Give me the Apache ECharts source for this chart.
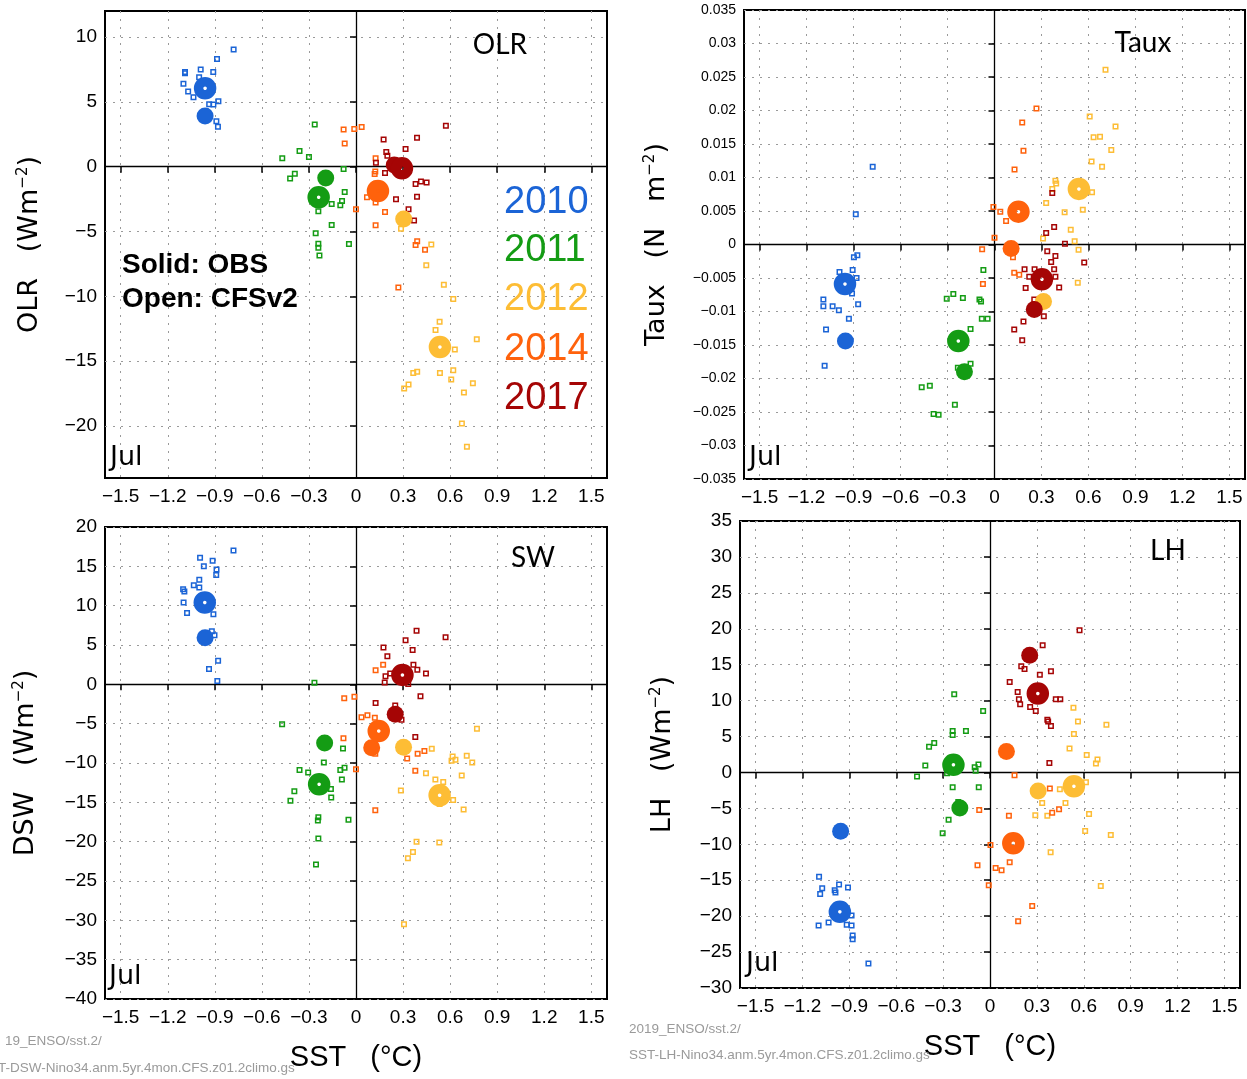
<!DOCTYPE html>
<html>
<head>
<meta charset="utf-8">
<script src="https://cdn.jsdelivr.net/npm/echarts@6/dist/echarts.min.js"></script>
<style>
html,body{margin:0;padding:0;background:#fff;}
#chart{width:1247px;height:1079px;}
</style>
</head>
<body>
<div id="chart"></div>
<script>
// ---------- categories / ticks ----------
const years = ['2010', '2011', '2012', '2014', '2017'];
const sstTicks = [-1.5, -1.2, -0.9, -0.6, -0.3, 0, 0.3, 0.6, 0.9, 1.2, 1.5];
const olrTicks = [-20, -15, -10, -5, 0, 5, 10];
const tauxTicks = [-0.035, -0.03, -0.025, -0.02, -0.015, -0.01, -0.005, 0, 0.005, 0.01, 0.015, 0.02, 0.025, 0.03, 0.035];
const dswTicks = [-40, -35, -30, -25, -20, -15, -10, -5, 0, 5, 10, 15, 20];
const lhTicks = [-30, -25, -20, -15, -10, -5, 0, 5, 10, 15, 20, 25, 30, 35];

// ---------- OLR ----------
const olr2010Obs = [-0.962, 3.9];
const olr2010Cfs = [-0.962, 6.05];
const olr2010Mem = [[-0.78,9.03],[-0.886,8.3],[-0.99,7.5],[-0.91,7.3],[-1.09,7.3],[-1.09,7.2],[-1.10,6.4],[-1.07,5.8],[-1.036,5.36],[-1.0,6.9],[-0.877,5.05],[-0.936,4.82],[-0.909,4.8],[-0.89,3.5],[-0.88,3.08]];
const olr2011Obs = [-0.193, -0.87];
const olr2011Cfs = [-0.238, -2.36];
const olr2011Mem = [[-0.263,3.26],[-0.36,1.2],[-0.30,0.74],[-0.47,0.64],[-0.39,-0.54],[-0.42,-0.92],[-0.079,-0.18],[-0.072,-1.95],[-0.089,-2.64],[-0.155,-2.87],[-0.10,-2.97],[-0.24,-3.44],[-0.155,-4.49],[-0.257,-5.13],[-0.24,-5.95],[-0.24,-6.26],[-0.233,-6.85],[-0.045,-5.97]];
const olr2012Obs = [0.304, -4.03];
const olr2012Cfs = [0.535, -13.9];
const olr2012Mem = [[0.287,-4.79],[0.48,-6.0],[0.448,-7.6],[0.56,-9.1],[0.62,-10.2],[0.533,-11.95],[0.507,-12.6],[0.77,-13.3],[0.63,-14.1],[0.535,-15.9],[0.62,-15.7],[0.607,-16.4],[0.365,-15.9],[0.39,-15.8],[0.335,-16.8],[0.307,-17.1],[0.688,-17.4],[0.745,-16.7],[0.675,-19.8],[0.707,-21.6]];
const olr2014Obs = [0.13, -1.7];
const olr2014Cfs = [0.14, -1.87];
const olr2014Mem = [[-0.079,2.87],[-0.011,2.9],[0.036,3.05],[-0.072,1.79],[0.125,0.64],[0.123,-0.38],[0.119,-0.56],[0.07,-2.36],[0.125,-2.77],[0.0,-3.28],[0.185,-3.49],[0.125,-4.51],[0.38,-6.03],[0.39,-5.74],[0.44,-6.41],[0.27,-9.31]];
const olr2017Obs = [0.244, 0.13];
const olr2017Cfs = [0.293, -0.13];
const olr2017Mem = [[0.573,3.15],[0.176,2.1],[0.389,2.23],[0.316,1.36],[0.193,1.13],[0.2,0.85],[0.127,0.31],[0.185,-0.49],[0.38,-1.33],[0.414,-1.15],[0.45,-1.23],[0.389,-2.31],[0.255,-2.51],[0.335,-3.28],[0.37,-4.15]];

// ---------- Taux ----------
const taux2010Obs = [-0.952, -0.0144];
const taux2010Cfs = [-0.955, -0.0059];
const taux2010Mem = [[-0.778,0.0116],[-0.886,0.0045],[-0.898,-0.0019],[-0.876,-0.0016],[-0.99,-0.0041],[-0.906,-0.0038],[-0.881,-0.005],[-0.91,-0.0073],[-0.871,-0.0089],[-1.093,-0.0082],[-1.093,-0.0092],[-1.034,-0.0092],[-0.994,-0.0098],[-0.93,-0.0111],[-1.076,-0.0127],[-1.085,-0.0181]];
const taux2011Obs = [-0.192, -0.019];
const taux2011Cfs = [-0.231, -0.0144];
const taux2011Mem = [[-0.071,-0.0038],[-0.096,-0.0082],[-0.086,-0.0085],[-0.305,-0.0081],[-0.263,-0.0074],[-0.202,-0.008],[-0.081,-0.0111],[-0.044,-0.0111],[-0.153,-0.0126],[-0.153,-0.0178],[-0.234,-0.0184],[-0.465,-0.0213],[-0.413,-0.0211],[-0.253,-0.0239],[-0.389,-0.0253],[-0.357,-0.0254]];
const taux2012Obs = [0.313, -0.0085];
const taux2012Cfs = [0.539, 0.0083];
const taux2012Mem = [[0.709,0.0261],[0.608,0.0191],[0.773,0.0176],[0.633,0.016],[0.674,0.0161],[0.746,0.0141],[0.62,0.0124],[0.687,0.0116],[0.389,0.0095],[0.394,0.0091],[0.369,0.0083],[0.623,0.0078],[0.33,0.0062],[0.448,0.0048],[0.564,0.0052],[0.487,0.0022],[0.512,0.0005],[0.31,0.0009],[0.537,-0.0008],[0.532,-0.0057]];
const taux2014Obs = [0.106, -0.0006];
const taux2014Cfs = [0.153, 0.0049];
const taux2014Mem = [[0.268,0.0203],[0.177,0.0182],[0.185,0.014],[0.128,0.0112],[-0.007,0.0056],[0.037,0.0049],[0.074,0.0035],[0.0,0.001],[-0.079,-0.0007],[0.118,-0.0019],[0.126,-0.0042],[0.158,-0.0045],[-0.074,-0.0059]];
const taux2017Obs = [0.254, -0.0097];
const taux2017Cfs = [0.303, -0.0052];
const taux2017Mem = [[0.369,0.0077],[0.381,0.0026],[0.33,0.0017],[0.45,0.0001],[0.337,-0.001],[0.389,-0.0017],[0.362,-0.0026],[0.381,-0.0037],[0.256,-0.0037],[0.192,-0.0037],[0.389,-0.0048],[0.222,-0.0048],[0.199,-0.0065],[0.413,-0.0064],[0.254,-0.0082],[0.315,-0.0107],[0.185,-0.0115],[0.126,-0.0127],[0.177,-0.0143],[0.573,-0.0027]];

// ---------- DSW ----------
const dsw2010Obs = [-0.962, 5.93];
const dsw2010Cfs = [-0.964, 10.4];
const dsw2010Mem = [[-0.781,17.0],[-0.994,16.1],[-0.914,15.7],[-0.97,15.0],[-0.889,14.6],[-0.891,13.9],[-0.999,13.3],[-1.034,12.6],[-0.999,12.3],[-1.102,12.1],[-1.094,11.8],[-1.099,10.4],[-1.077,9.07],[-0.909,8.9],[-0.919,6.76],[-0.902,6.25],[-0.879,3.0],[-0.937,1.94],[-0.884,0.42]];
const dsw2011Obs = [-0.2, -7.45];
const dsw2011Cfs = [-0.235, -12.7];
const dsw2011Mem = [[-0.265,0.19],[-0.471,-5.09],[-0.083,-8.15],[-0.205,-9.95],[-0.073,-10.6],[-0.1,-10.9],[-0.36,-10.9],[-0.305,-11.2],[-0.09,-12.1],[-0.16,-13.3],[-0.393,-13.6],[-0.158,-14.4],[-0.418,-14.8],[-0.048,-17.2],[-0.24,-16.9],[-0.243,-17.3],[-0.24,-19.6],[-0.255,-22.9]];
const dsw2012Obs = [0.303, -8.0];
const dsw2012Cfs = [0.533, -14.1];
const dsw2012Mem = [[0.771,-5.65],[0.483,-8.19],[0.616,-9.17],[0.634,-9.58],[0.609,-9.72],[0.706,-9.07],[0.741,-9.95],[0.674,-11.6],[0.446,-11.3],[0.506,-12.1],[0.556,-12.4],[0.619,-14.7],[0.533,-15.2],[0.686,-15.9],[0.286,-13.5],[0.386,-20.0],[0.531,-20.1],[0.363,-21.3],[0.331,-22.1],[0.306,-30.5]];
const dsw2014Obs = [0.1, -8.06];
const dsw2014Cfs = [0.145, -5.93];
const dsw2014Mem = [[0.125,1.8],[0.173,2.5],[-0.075,-1.76],[-0.01,-1.57],[0.035,-4.17],[0.073,-3.94],[0.12,-4.26],[-0.08,-6.85],[0.123,-8.84],[0.0,-10.8],[0.123,-16.0],[0.326,-9.44],[0.393,-8.84],[0.436,-8.47],[0.378,-11.0]];
const dsw2017Obs = [0.25, -3.8];
const dsw2017Cfs = [0.296, 1.2];
const dsw2017Mem = [[0.386,6.8],[0.316,5.6],[0.571,6.0],[0.175,4.68],[0.361,4.35],[0.2,3.56],[0.366,2.5],[0.391,1.85],[0.218,1.39],[0.188,1.02],[0.183,0.23],[0.446,1.39],[0.333,0.05],[0.411,-1.53],[0.125,-2.36],[0.25,-2.69],[0.29,-4.49],[0.378,-6.71]];

// ---------- LH ----------
const lh2010Obs = [-0.956, -8.19];
const lh2010Cfs = [-0.961, -19.4];
const lh2010Mem = [[-1.094,-14.5],[-1.074,-16.1],[-1.087,-16.9],[-0.994,-16.4],[-0.989,-16.7],[-0.966,-15.6],[-0.909,-16.0],[-1.033,-20.9],[-1.097,-21.3],[-0.917,-21.2],[-0.886,-21.3],[-0.886,-19.9],[-0.879,-22.7],[-0.879,-23.2],[-0.778,-26.6]];
const lh2011Obs = [-0.193, -4.96];
const lh2011Cfs = [-0.234, 1.06];
const lh2011Mem = [[-0.229,10.9],[-0.044,8.55],[-0.239,5.77],[-0.239,5.21],[-0.154,5.77],[-0.357,4.1],[-0.39,3.59],[-0.414,0.96],[-0.467,-0.56],[-0.074,1.11],[-0.098,0.71],[-0.092,0.25],[-0.275,-0.1],[-0.239,-2.07],[-0.072,-2.07],[-0.203,-4.1],[-0.265,-6.58],[-0.303,-8.45]];
const lh2012Obs = [0.308, -2.58];
const lh2012Cfs = [0.537, -1.92];
const lh2012Mem = [[0.534,9.0],[0.563,7.08],[0.745,6.63],[0.537,5.36],[0.509,3.34],[0.619,2.43],[0.688,1.82],[0.678,1.26],[0.614,-1.37],[0.447,-2.33],[0.334,-4.25],[0.483,-4.25],[0.29,-5.97],[0.367,-6.02],[0.634,-5.77],[0.609,-8.14],[0.773,-8.7],[0.388,-11.1],[0.709,-15.8]];
const lh2014Obs = [0.105, 2.93];
const lh2014Cfs = [0.149, -9.86];
const lh2014Mem = [[0.157,-0.4],[-0.069,-5.21],[0.121,-6.02],[0.003,-10.1],[0.126,-12.5],[-0.08,-12.9],[0.036,-13.3],[0.074,-13.6],[-0.008,-15.7],[0.27,-18.6],[0.18,-20.7],[0.383,-2.23],[0.398,-5.61],[0.442,-5.11]];
const lh2017Obs = [0.254, 16.3];
const lh2017Cfs = [0.306, 11.0];
const lh2017Mem = [[0.573,19.8],[0.337,17.7],[0.2,14.8],[0.221,14.4],[0.319,13.6],[0.39,14.1],[0.126,12.6],[0.177,11.2],[0.185,10.2],[0.193,9.51],[0.257,9.1],[0.293,8.55],[0.421,10.2],[0.45,10.2],[0.367,7.33],[0.372,7.08],[0.39,6.47],[0.38,1.32]];

// ---------- assemble ----------
const yearColors = ['#1b64d6', '#149c14', '#fdbd35', '#ff620c', '#a50505'];
const NARROW = "'Liberation Sans Narrow','Liberation Sans',sans-serif";
const TICKFONT = "'Liberation Sans',sans-serif";

const panels = [
  { ticks: olrTicks, min: -24, max: 12, labelSize: 19, yName: 'OLR   (Wm{sup|−2})', yGap: 62, xName: '',
    grid: { left: 105, top: 11, width: 502, height: 467 },
    obs: [olr2010Obs, olr2011Obs, olr2012Obs, olr2014Obs, olr2017Obs],
    cfs: [olr2010Cfs, olr2011Cfs, olr2012Cfs, olr2014Cfs, olr2017Cfs],
    mem: [olr2010Mem, olr2011Mem, olr2012Mem, olr2014Mem, olr2017Mem] },
  { ticks: tauxTicks, min: -0.035, max: 0.035, labelSize: 14, yName: 'Taux   (N   m{sup|−2})', yGap: 74, xName: '',
    grid: { left: 744, top: 10, width: 501, height: 469 },
    obs: [taux2010Obs, taux2011Obs, taux2012Obs, taux2014Obs, taux2017Obs],
    cfs: [taux2010Cfs, taux2011Cfs, taux2012Cfs, taux2014Cfs, taux2017Cfs],
    mem: [taux2010Mem, taux2011Mem, taux2012Mem, taux2014Mem, taux2017Mem] },
  { ticks: dswTicks, min: -40, max: 20, labelSize: 19, yName: 'DSW   (Wm{sup|−2})', yGap: 66, xName: 'SST   (°C)',
    grid: { left: 105, top: 527, width: 502, height: 472 },
    obs: [dsw2010Obs, dsw2011Obs, dsw2012Obs, dsw2014Obs, dsw2017Obs],
    cfs: [dsw2010Cfs, dsw2011Cfs, dsw2012Cfs, dsw2014Cfs, dsw2017Cfs],
    mem: [dsw2010Mem, dsw2011Mem, dsw2012Mem, dsw2014Mem, dsw2017Mem] },
  { ticks: lhTicks, min: -30, max: 35, labelSize: 19, yName: 'LH   (Wm{sup|−2})', yGap: 64, xName: 'SST   (°C)',
    grid: { left: 740, top: 521, width: 500, height: 467 },
    obs: [lh2010Obs, lh2011Obs, lh2012Obs, lh2014Obs, lh2017Obs],
    cfs: [lh2010Cfs, lh2011Cfs, lh2012Cfs, lh2014Cfs, lh2017Cfs],
    mem: [lh2010Mem, lh2011Mem, lh2012Mem, lh2014Mem, lh2017Mem] }
];

function fmt(v) {
  const s = String(parseFloat(Number(v).toFixed(4)));
  return s.replace('-', '\u2212');
}

const grids = [], xAxes = [], yAxes = [], series = [];
const dotted = { color: '#9a9a9a', width: 1, type: [2, 6] };

panels.forEach((p, i) => {
  grids.push(Object.assign({ show: true, borderColor: '#000', borderWidth: 2, backgroundColor: '#fff', containLabel: false }, p.grid));
  xAxes.push({
    type: 'value', gridIndex: i, min: -1.6, max: 1.6,
    axisLine: { show: false },
    axisTick: { show: true, customValues: sstTicks, length: 6, lineStyle: { color: '#000', width: 1.5 } },
    axisLabel: { customValues: sstTicks, formatter: fmt, fontSize: 19, fontFamily: TICKFONT, color: '#000', margin: 9 },
    splitLine: { show: true, lineStyle: dotted },
    name: p.xName, nameLocation: 'middle', nameGap: 44,
    nameTextStyle: { fontSize: 29, fontFamily: "'Liberation Sans',sans-serif", color: '#000' }
  });
  yAxes.push({
    type: 'value', gridIndex: i, min: p.min, max: p.max,
    axisLine: { show: false },
    axisTick: { show: true, customValues: p.ticks, length: 6, lineStyle: { color: '#000', width: 1.5 } },
    axisLabel: { customValues: p.ticks, formatter: fmt, fontSize: p.labelSize, fontFamily: TICKFONT, color: '#000', margin: 8 },
    splitLine: { show: true, lineStyle: dotted },
    name: p.yName, nameLocation: 'middle', nameRotate: 90, nameGap: p.yGap,
    nameTextStyle: { fontSize: 27, fontFamily: "'DejaVu Sans',sans-serif", color: '#000',
      rich: { sup: { fontSize: 15, fontFamily: "'DejaVu Sans',sans-serif", verticalAlign: 'top', padding: [0, 0, 12, 0] } } }
  });
  // zero lines
  series.push({
    type: 'scatter', xAxisIndex: i, yAxisIndex: i, data: [], silent: true, z: 1,
    markLine: { silent: true, symbol: ['none', 'none'], label: { show: false }, animation: false, z: 1,
      lineStyle: { color: '#000', width: 1.3, type: 'solid' },
      data: [{ xAxis: 0 }, { yAxis: 0 }] }
  });
  years.forEach((yr, k) => {
    const c = yearColors[k];
    series.push({
      name: yr + ' CFSv2 members', type: 'scatter', xAxisIndex: i, yAxisIndex: i, z: 3,
      symbol: 'rect', symbolSize: 4.5, data: p.mem[k],
      itemStyle: { color: 'rgba(255,255,255,0)', borderColor: c, borderWidth: 1.5, opacity: 1 },
      emphasis: { disabled: true }
    });
  });
  years.forEach((yr, k) => {
    const c = yearColors[k];
    series.push({
      name: yr + ' OBS', type: 'scatter', xAxisIndex: i, yAxisIndex: i, z: 4,
      symbol: 'circle', symbolSize: 17, data: [p.obs[k]],
      itemStyle: { color: c, opacity: 1 },
      emphasis: { disabled: true }
    });
    series.push({
      name: yr + ' CFSv2 mean', type: 'scatter', xAxisIndex: i, yAxisIndex: i, z: 5,
      symbol: 'circle', symbolSize: 13, data: [p.cfs[k]],
      itemStyle: { color: 'rgba(255,255,255,0)', borderColor: c, borderWidth: 9.5, opacity: 1 },
      emphasis: { disabled: true }
    });
  });
});

// text overlays
const graphics = [];
function txt(x, y, text, font, fill, align) {
  graphics.push({ type: 'text', x: x, y: y, z: 100, silent: true,
    style: { text: text, font: font, fill: fill || '#000', align: align || 'left', verticalAlign: 'middle' } });
}
const TITLE_FONT = "28px Lato, 'Open Sans', sans-serif";
txt(500, 45, 'OLR', TITLE_FONT, '#000', 'center');
txt(1143, 43, 'Taux', TITLE_FONT, '#000', 'center');
txt(533, 558, 'SW', TITLE_FONT, '#000', 'center');
txt(1168, 551, 'LH', TITLE_FONT, '#000', 'center');
const JUL_FONT = "27px 'DejaVu Sans', sans-serif";
txt(110, 458, 'Jul', JUL_FONT);
txt(749, 458, 'Jul', JUL_FONT);
txt(109, 977, 'Jul', JUL_FONT);
txt(746, 964, 'Jul', JUL_FONT);
const legendY = [203, 251, 300, 350, 399];
years.forEach((yr, k) => txt(504, legendY[k], yr, "38px 'Liberation Sans', sans-serif", yearColors[k]));
txt(122, 265, 'Solid: OBS', "bold 28px 'Liberation Sans', sans-serif");
txt(122, 299, 'Open: CFSv2', "bold 28px 'Liberation Sans', sans-serif");
const FOOT_FONT = "13.5px " + NARROW;
txt(5, 1041, '19_ENSO/sst.2/', FOOT_FONT, '#9a9a9a');
txt(-2, 1068, 'T-DSW-Nino34.anm.5yr.4mon.CFS.z01.2climo.gs', FOOT_FONT, '#9a9a9a');
txt(629, 1029, '2019_ENSO/sst.2/', FOOT_FONT, '#9a9a9a');
txt(629, 1055, 'SST-LH-Nino34.anm.5yr.4mon.CFS.z01.2climo.gs', FOOT_FONT, '#9a9a9a');

const chart = echarts.init(document.getElementById('chart'), null, { renderer: 'canvas' });
chart.setOption({
  animation: false,
  backgroundColor: '#fff',
  grid: grids,
  xAxis: xAxes,
  yAxis: yAxes,
  series: series,
  graphic: graphics
});
</script>
</body>
</html>
